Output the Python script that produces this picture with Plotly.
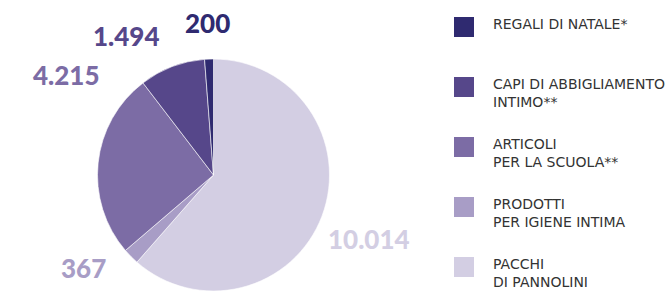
import plotly.graph_objects as go

# Data (clockwise from 12 o'clock)
labels = ["PACCHI<br>DI PANNOLINI", "PRODOTTI<br>PER IGIENE INTIMA", "ARTICOLI<br>PER LA SCUOLA**",
          "CAPI DI ABBIGLIAMENTO<br>INTIMO**", "REGALI DI NATALE*"]
values = [10014, 367, 4215, 1494, 200]
colors = ["#d3cee3", "#a89dc6", "#7c6ca5", "#56478a", "#2f2a70"]

W, H = 665, 291

def fmt(v):
    return f"{v:,}".replace(",", ".")

fig = go.Figure()
fig.add_trace(go.Pie(
    values=values, labels=labels, sort=False, direction="clockwise", rotation=0,
    marker=dict(colors=colors, line=dict(color="white", width=0.6)),
    textinfo="none", hoverinfo="label+value", showlegend=False,
    domain=dict(x=[97 / W, 330 / W], y=[0, 1 - 59 / H]),
))

# value label positions (pixel centers)
label_pos = [(369, 239), (83, 268), (66, 75), (126, 36), (207, 23)]
annotations = []
for v, c, (px, py) in zip(values, colors, label_pos):
    annotations.append(dict(
        x=px / W, y=1 - py / H, xref="paper", yref="paper", text=fmt(v),
        showarrow=False, xanchor="center", yanchor="middle",
        font=dict(family="Lato", size=26, color=c, weight=900),
    ))

# manual legend (reverse order)
shapes = []
leg_top = 17
step = 60
for i, (lab, c) in enumerate(zip(labels[::-1], colors[::-1])):
    top = leg_top + i * step
    shapes.append(dict(type="rect", xref="paper", yref="paper",
                       x0=454 / W, x1=474 / W, y0=1 - (top + 20) / H, y1=1 - top / H,
                       fillcolor=c, line=dict(width=0)))
    annotations.append(dict(
        x=491 / W, y=1 - (top - 3) / H, xref="paper", yref="paper", text=lab,
        showarrow=False, xanchor="left", yanchor="top", align="left",
        font=dict(family="DejaVu Sans", size=14, color="#333333"),
    ))

fig.update_layout(
    width=W, height=H, margin=dict(l=0, r=0, t=0, b=0),
    paper_bgcolor="white", plot_bgcolor="white",
    annotations=annotations, shapes=shapes,
)
fig.write_html("out.html", config={"displayModeBar": False},
               post_script="document.body.style.margin='0';")
